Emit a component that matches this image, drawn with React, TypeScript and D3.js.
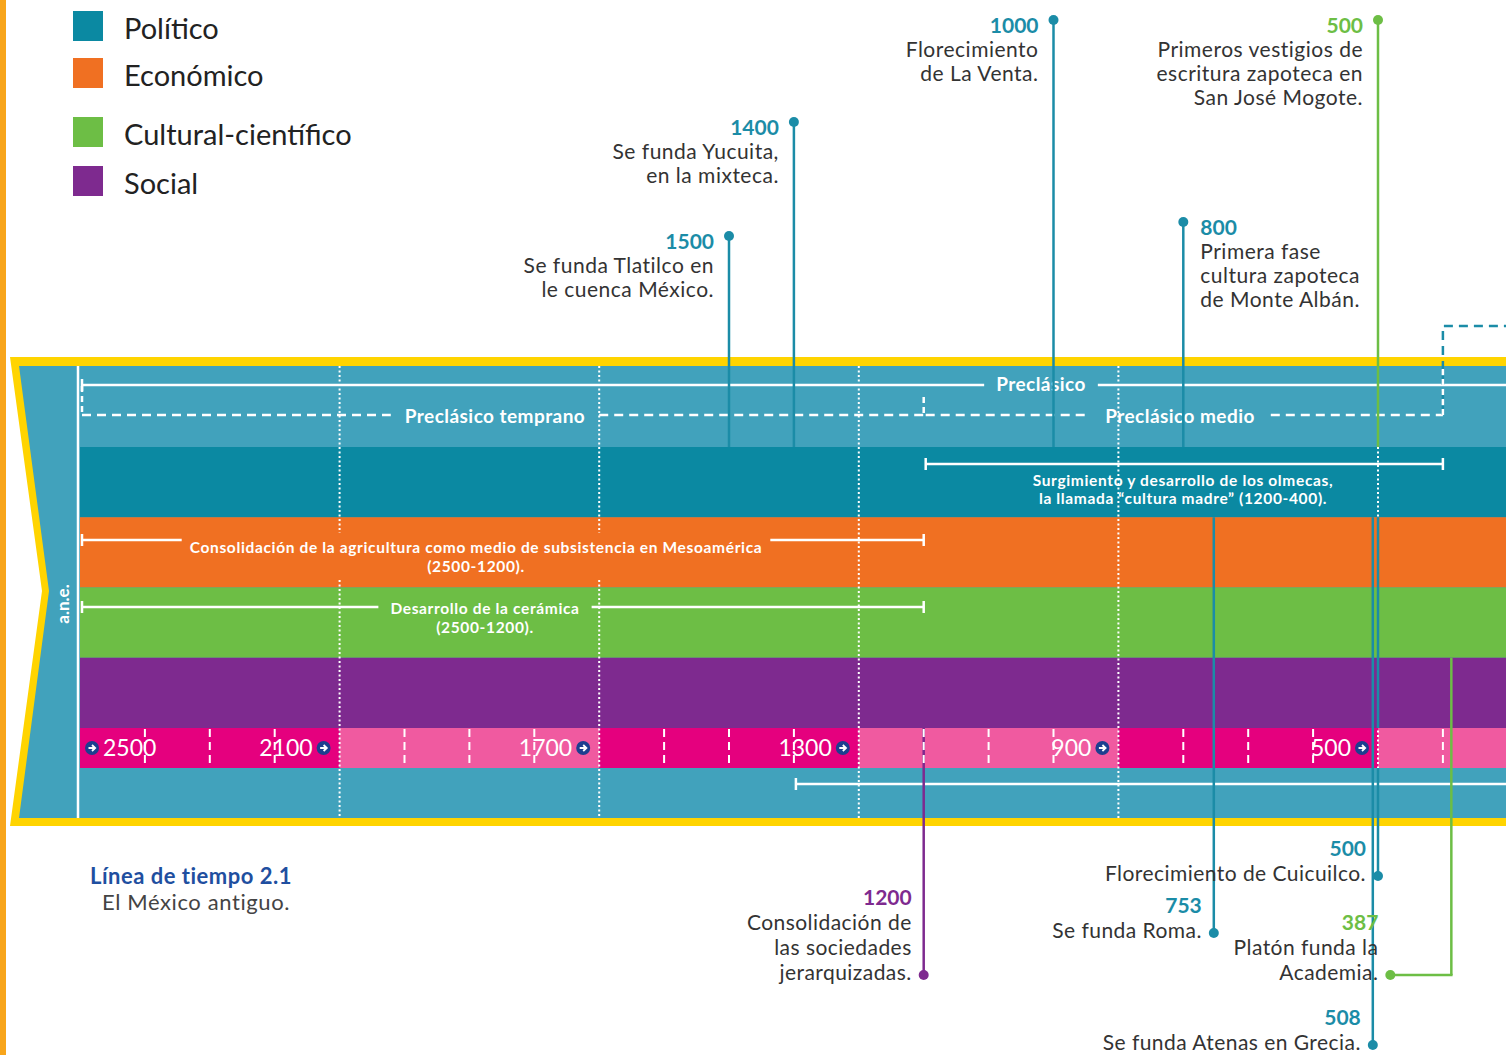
import * as d3 from "d3";
import { useEffect, useRef } from "react";

const categories = ["Político", "Económico", "Cultural-científico", "Social"];
const categoryColors = ["#0b89a2", "#f07022", "#6dbe45", "#7e2a8f"];
const lineColors = ["#1b8ca7", "#f07022", "#6dbe45", "#7e2a8f"];

const boundaryYears = [2500, 2100, 1700, 1300, 900, 500];
const boundaryLabels = ["2500", "2100", "1700", "1300", "900", "500"];

const topEventYears = [1500, 1400, 1000, 800, 500];
const topEventCats = [0, 0, 0, 0, 2];
const topEventTexts = [
  ["Se funda Tlatilco en", "le cuenca México."],
  ["Se funda Yucuita,", "en la mixteca."],
  ["Florecimiento", "de La Venta."],
  ["Primera fase", "cultura zapoteca", "de Monte Albán."],
  ["Primeros vestigios de", "escritura zapoteca en", "San José Mogote."],
];

const bottomEventYears = [1200, 753, 500, 387, 508];
const bottomEventCats = [3, 0, 0, 2, 0];
const bottomEventTexts = [
  ["Consolidación de", "las sociedades", "jerarquizadas."],
  ["Se funda Roma."],
  ["Florecimiento de Cuicuilco."],
  ["Platón funda la", "Academia."],
  ["Se funda Atenas en Grecia."],
];

const spanLabels = [
  ["Preclásico"],
  ["Preclásico temprano"],
  ["Preclásico medio"],
  ["Surgimiento y desarrollo de los olmecas,", "la llamada “cultura madre” (1200-400)."],
  ["Consolidación de la agricultura como medio de subsistencia en Mesoamérica", "(2500-1200)."],
  ["Desarrollo de la cerámica", "(2500-1200)."],
  [],
];
const spanFrom = [2500, 2500, 1200, 1200, 2500, 2500, 1400];
const spanTo = [0, 1200, 400, 400, 1200, 1200, 0];

// layout
const W = 1506;
const H = 1055;
const OUTER_TOP = 357;
const INNER_TOP = 366;
const INNER_BOTTOM = 818;
const OUTER_BOTTOM = 826;
const CAT_TOP = 447;
const CAT_BOTTOM = 728;
const AXIS_BOTTOM = 768;
const topDotY = [236, 122, 20, 222, 20];
const topTextRight = [false, false, false, true, false];
const bottomDotY = [975, 933, 876, 975, 1045];
const bottomElbow = [0, 0, 0, -61, 0];
const legendY = [11, 58, 117, 166];
const spanLayout = [
  { y: 385, textY: [391], labelX: 1041, dashed: false, gap: 12, size: 19, ls: 0.45, ticks: [true, false] },
  { y: 415, textY: [423], labelX: 495, dashed: true, gap: 14, size: 19, ls: 0.45, ticks: [false, false] },
  { y: 415, textY: [423], labelX: 1180, dashed: true, gap: 16, size: 19, ls: 0.45, ticks: [false, false] },
  { y: 464, textY: [486, 504], labelX: 1183, dashed: false, gap: 0, size: 15.5, ls: 0.65, ticks: [true, true] },
  { y: 540, textY: [553, 572], labelX: 476, dashed: false, gap: 8, size: 15.5, ls: 0.65, ticks: [true, true] },
  { y: 607, textY: [614, 633], labelX: 485, dashed: false, gap: 12, size: 15.5, ls: 0.65, ticks: [true, true] },
  { y: 784, textY: [], labelX: 0, dashed: false, gap: 0, size: 14, ls: 0, ticks: [true, false] },
];

const FONT = "Lato, 'Noto Sans', sans-serif";

const App = () => {
  const ref = useRef<SVGSVGElement>(null);

  useEffect(() => {
    const svg = d3.select(ref.current);
    svg.selectAll("*").remove();
    svg.attr("width", W).attr("height", H).attr("font-family", FONT);

    const x = d3.scaleLinear().domain([2500, 500]).range([80, 1378]);
    const yBand = d3.scaleBand().domain(categories).range([CAT_TOP, CAT_BOTTOM]);

    svg.append("rect").attr("width", W).attr("height", H).attr("fill", "#fff");
    svg.append("rect").attr("x", 0).attr("y", 0).attr("width", 6).attr("height", H).attr("fill", "#f8a51b");

    // frame with chevron
    svg
      .append("polygon")
      .attr("points", [[10, OUTER_TOP], [W + 20, OUTER_TOP], [W + 20, OUTER_BOTTOM], [10, OUTER_BOTTOM], [42, 591]].join(" "))
      .attr("fill", "#ffd400");
    svg
      .append("polygon")
      .attr("points", [[19, INNER_TOP], [W + 20, INNER_TOP], [W + 20, INNER_BOTTOM], [19, INNER_BOTTOM], [49, 591]].join(" "))
      .attr("fill", "#41a2bc");

    // category bands
    categories.forEach((c, i) => {
      svg
        .append("rect")
        .attr("x", x(2500))
        .attr("y", yBand(c)!)
        .attr("width", W - x(2500))
        .attr("height", yBand.bandwidth())
        .attr("fill", categoryColors[i]);
    });

    // axis band
    boundaryYears.forEach((yr, i) => {
      const x0 = x(yr);
      const x1 = i < boundaryYears.length - 1 ? x(boundaryYears[i + 1]) : W;
      svg
        .append("rect")
        .attr("x", x0)
        .attr("y", CAT_BOTTOM)
        .attr("width", x1 - x0)
        .attr("height", AXIS_BOTTOM - CAT_BOTTOM)
        .attr("fill", i % 2 === 0 ? "#e5007e" : "#f05aa0");
    });

    svg
      .append("line")
      .attr("x1", x(2500) - 2)
      .attr("x2", x(2500) - 2)
      .attr("y1", INNER_TOP)
      .attr("y2", INNER_BOTTOM)
      .attr("stroke", "#fff")
      .attr("stroke-width", 2.5);

    svg
      .append("text")
      .attr("transform", `translate(69,604) rotate(-90)`)
      .attr("text-anchor", "middle")
      .attr("fill", "#fff")
      .attr("font-weight", 700)
      .attr("font-size", 17)
      .text("a.n.e.");

    // dotted boundary lines
    boundaryYears.slice(1).forEach((yr) => {
      const segs = yr === 2100 || yr === 1700 ? [[INNER_TOP, 533], [580, INNER_BOTTOM]] : [[INNER_TOP, INNER_BOTTOM]];
      segs.forEach(([a, b]) => {
        svg
          .append("line")
          .attr("x1", x(yr))
          .attr("x2", x(yr))
          .attr("y1", a)
          .attr("y2", b)
          .attr("stroke", "#fff")
          .attr("stroke-width", 2)
          .attr("stroke-dasharray", "2 2.5");
      });
    });

    // spans / brackets
    spanLabels.forEach((lines, i) => {
      const L = spanLayout[i];
      const x0 = x(spanFrom[i]) + 2;
      const x1 = Math.min(x(spanTo[i]), W + 10);
      let gapL = 0;
      let gapR = 0;
      lines.forEach((t, j) => {
        const el = svg
          .append("text")
          .attr("x", L.labelX)
          .attr("y", L.textY[j])
          .attr("text-anchor", "middle")
          .attr("fill", "#fff")
          .attr("font-weight", 700)
          .attr("font-size", L.size)
          .attr("letter-spacing", L.ls)
          .text(t);
        if (j === 0 && L.gap > 0) {
          const w = (el.node() as SVGTextElement).getComputedTextLength();
          gapL = L.labelX - w / 2 - L.gap;
          gapR = L.labelX + w / 2 + L.gap;
        }
      });
      const segs = L.gap > 0 && lines.length ? [[x0, gapL], [gapR, x1]] : [[x0, x1]];
      segs.forEach(([a, b]) => {
        svg
          .append("line")
          .attr("x1", a)
          .attr("x2", b)
          .attr("y1", L.y)
          .attr("y2", L.y)
          .attr("stroke", "#fff")
          .attr("stroke-width", 2.5)
          .attr("stroke-dasharray", L.dashed ? "9 6" : null);
      });
      if (L.ticks[0]) {
        svg.append("line").attr("x1", x0).attr("x2", x0).attr("y1", L.y - 6).attr("y2", L.y + 6)
          .attr("stroke", "#fff").attr("stroke-width", 2.5);
      }
      if (L.ticks[1]) {
        svg.append("line").attr("x1", x1).attr("x2", x1).attr("y1", L.y - 6).attr("y2", L.y + 6)
          .attr("stroke", "#fff").attr("stroke-width", 2.5);
      }
    });

    // dashed period marks
    const dashMark = (xx: number, y1: number, y2: number, color: string) =>
      svg.append("line").attr("x1", xx).attr("x2", xx).attr("y1", y1).attr("y2", y2)
        .attr("stroke", color).attr("stroke-width", 2.5).attr("stroke-dasharray", "6 4");
    dashMark(x(2500) + 2, 386, 415, "#fff");
    dashMark(x(1200), 397, 415, "#fff");
    svg
      .append("path")
      .attr("d", `M${x(400)},415 V326 H${W}`)
      .attr("fill", "none")
      .attr("stroke", "#1b8ca7")
      .attr("stroke-width", 2.5)
      .attr("stroke-dasharray", "9 6");
    svg.append("line").attr("x1", x(400)).attr("x2", x(400)).attr("y1", 415).attr("y2", INNER_TOP)
      .attr("stroke", "#fff").attr("stroke-width", 2.5).attr("stroke-dasharray", "6 4");

    // event stems
    topEventYears.forEach((yr, i) => {
      svg
        .append("line")
        .attr("x1", x(yr))
        .attr("x2", x(yr))
        .attr("y1", topDotY[i])
        .attr("y2", CAT_TOP)
        .attr("stroke", lineColors[topEventCats[i]])
        .attr("stroke-width", 2.5);
    });
    bottomEventYears.forEach((yr, i) => {
      const c = bottomEventCats[i];
      const start = yBand(categories[c])! + yBand.bandwidth();
      const onBoundary = boundaryYears.includes(yr);
      const segs = onBoundary ? [[start, CAT_BOTTOM], [AXIS_BOTTOM, bottomDotY[i]]] : [[start, bottomDotY[i]]];
      segs.forEach(([a, b]) => {
        svg
          .append("line")
          .attr("x1", x(yr))
          .attr("x2", x(yr))
          .attr("y1", a)
          .attr("y2", b)
          .attr("stroke", lineColors[c])
          .attr("stroke-width", 2.5);
      });
      if (bottomElbow[i]) {
        svg
          .append("line")
          .attr("x1", x(yr) + 1.25)
          .attr("x2", x(yr) + bottomElbow[i])
          .attr("y1", bottomDotY[i])
          .attr("y2", bottomDotY[i])
          .attr("stroke", lineColors[c])
          .attr("stroke-width", 2.5);
      }
    });

    // axis ticks
    d3.range(2400, 0, -100)
      .filter((yr) => !boundaryYears.includes(yr))
      .forEach((yr) => {
        svg
          .append("line")
          .attr("x1", x(yr))
          .attr("x2", x(yr))
          .attr("y1", CAT_BOTTOM + 1)
          .attr("y2", AXIS_BOTTOM)
          .attr("stroke", "#fff")
          .attr("stroke-width", 2)
          .attr("stroke-dasharray", "8 5");
      });

    // axis labels with arrows
    const arrow = (cx: number) => {
      const g = svg.append("g").attr("transform", `translate(${cx},${(CAT_BOTTOM + AXIS_BOTTOM) / 2})`);
      g.append("circle").attr("r", 7).attr("fill", "#1c3f8f");
      g.append("path")
        .attr("d", "M-3.5,0 H3 M0,-3 L3.2,0 L0,3")
        .attr("fill", "none")
        .attr("stroke", "#fff")
        .attr("stroke-width", 1.8);
    };
    boundaryYears.forEach((yr, i) => {
      const first = i === 0;
      svg
        .append("text")
        .attr("x", first ? x(yr) + 23 : x(yr) - 27)
        .attr("y", (CAT_BOTTOM + AXIS_BOTTOM) / 2 + 8)
        .attr("text-anchor", first ? "start" : "end")
        .attr("fill", "#fff")
        .attr("font-size", 23)
        .text(boundaryLabels[i]);
      arrow(first ? x(yr) + 12 : x(yr) - 16);
    });

    // event dots & texts
    topEventYears.forEach((yr, i) => {
      const c = topEventCats[i];
      const cx = x(yr);
      svg.append("circle").attr("cx", cx).attr("cy", topDotY[i]).attr("r", 5).attr("fill", lineColors[c]);
      const right = topTextRight[i];
      const tx = right ? cx + 17 : cx - 15;
      const anchor = right ? "start" : "end";
      svg
        .append("text")
        .attr("x", tx)
        .attr("y", topDotY[i] + 13)
        .attr("text-anchor", anchor)
        .attr("fill", lineColors[c])
        .attr("font-weight", 700)
        .attr("font-size", 21)
        .text(String(yr));
      topEventTexts[i].forEach((t, j) => {
        svg
          .append("text")
          .attr("x", tx)
          .attr("y", topDotY[i] + 37 + j * 24)
          .attr("text-anchor", anchor)
          .attr("fill", "#333")
          .attr("font-size", 21)
          .attr("letter-spacing", 0.5)
          .text(t);
      });
    });

    bottomEventYears.forEach((yr, i) => {
      const c = bottomEventCats[i];
      const cx = x(yr) + bottomElbow[i];
      const dy = bottomDotY[i];
      svg.append("circle").attr("cx", cx).attr("cy", dy).attr("r", 5).attr("fill", lineColors[c]);
      const lines = bottomEventTexts[i];
      const tx = cx - 12;
      const lastBase = dy + 5;
      lines.forEach((t, j) => {
        svg
          .append("text")
          .attr("x", tx)
          .attr("y", lastBase - (lines.length - 1 - j) * 25)
          .attr("text-anchor", "end")
          .attr("fill", "#333")
          .attr("font-size", 21)
          .attr("letter-spacing", 0.45)
          .text(t);
      });
      svg
        .append("text")
        .attr("x", tx)
        .attr("y", lastBase - lines.length * 25)
        .attr("text-anchor", "end")
        .attr("fill", lineColors[c])
        .attr("font-weight", 700)
        .attr("font-size", 21)
        .text(String(yr));
    });

    // legend
    categories.forEach((c, i) => {
      svg.append("rect").attr("x", 73).attr("y", legendY[i]).attr("width", 30).attr("height", 30).attr("fill", categoryColors[i]);
      svg
        .append("text")
        .attr("x", 124)
        .attr("y", legendY[i] + 28)
        .attr("fill", "#222")
        .attr("font-size", 29)
        .text(c);
    });

    // title
    svg.append("text").attr("x", 90).attr("y", 884).attr("fill", "#1f4fa0").attr("font-weight", 700)
      .attr("font-size", 22).attr("letter-spacing", 0.5).text("Línea de tiempo 2.1");
    svg.append("text").attr("x", 102).attr("y", 910).attr("fill", "#444")
      .attr("font-size", 22).attr("letter-spacing", 0.6).text("El México antiguo.");

    return () => {
      svg.selectAll("*").remove();
    };
  }, []);

  return <svg ref={ref} style={{ position: "absolute", left: 0, top: 0, display: "block" }}></svg>;
};

export default App;
